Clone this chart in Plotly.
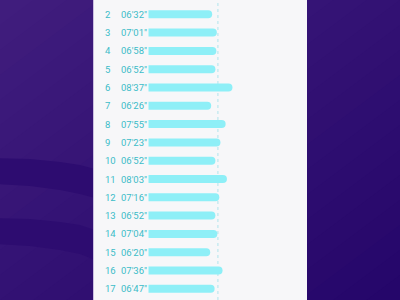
import plotly.graph_objects as go
import numpy as np

# ---- data ----
rows = list(range(1, 18))
times = ["06'32″", "06'32″", "07'01″", "06'58″", "06'52″", "08'37″", "06'26″", "07'55″",
         "07'23″", "06'52″", "08'03″", "07'16″", "06'52″", "07'04″", "06'20″", "07'36″", "06'47″"]
seconds = [int(t[:2]) * 60 + int(t[3:5]) for t in times]
avg = float(np.mean(seconds))

W, H = 400, 300
# layout geometry (pixels)
panel_l, panel_r = 93, 307
zero_px, px_per_s = 148.5, 0.1624
row2_px, row_step = 14.3, 18.3

x_range = [(panel_l - zero_px) / px_per_s, (panel_r - zero_px) / px_per_s]
y_range = [2 + (H - row2_px) / row_step, 2 - row2_px / row_step]

fig = go.Figure()
fig.add_trace(go.Bar(
    x=seconds, y=rows, orientation="h", width=8 / row_step,
    marker=dict(color="#8eeff7", line=dict(width=0)),
    hoverinfo="skip", showlegend=False,
))

shapes = []

def hexlerp(a, b, t):
    ca = [int(a[i:i + 2], 16) for i in (1, 3, 5)]
    cb = [int(b[i:i + 2], 16) for i in (1, 3, 5)]
    c = [round(ca[k] + (cb[k] - ca[k]) * t) for k in range(3)]
    return "#%02x%02x%02x" % tuple(c)

# diagonal background gradient
N = 24
for i in range(N):
    s = 2.0 * i / N
    col = hexlerp("#401d7d", "#25066a", i / (N - 1))
    A = (-2, 1 - s - 2)
    B = (3, 1 - s + 3)
    C = (3, -4)
    path = f"M {A[0]},{A[1]} L {B[0]},{B[1]} L {C[0]},{C[1]} Z"
    shapes.append(dict(type="path", xref="paper", yref="paper", path=path,
                       fillcolor=col, line=dict(width=0), layer="below"))

def P(x, y):
    return f"{x / W},{1 - y / H}"

bands = [
    ([(-5, 158), (30, 159), (60, 162), (80, 165), (95, 169)],
     [(95, 198), (80, 194), (60, 190), (30, 186), (-5, 184)]),
    ([(-5, 218), (30, 219), (60, 222), (80, 225), (95, 230)],
     [(95, 260), (80, 254), (60, 250), (30, 246), (-5, 244)]),
]
for top, bot in bands:
    pts = top + bot
    path = "M " + " L ".join(P(x, y) for x, y in pts) + " Z"
    shapes.append(dict(type="path", xref="paper", yref="paper", path=path,
                       fillcolor="#2d0c70", line=dict(width=0), layer="below"))

# white panel
shapes.append(dict(type="rect", xref="paper", yref="paper", x0=panel_l / W, x1=panel_r / W,
                   y0=0, y1=1, fillcolor="#f7f7f9", line=dict(width=0), layer="below"))
shapes.append(dict(type="line", xref="paper", yref="paper", x0=(panel_l + 0.5) / W, x1=(panel_l + 0.5) / W,
                   y0=0, y1=1, line=dict(color="#cbbfe0", width=1), layer="below"))

# average dashed line
shapes.append(dict(type="line", xref="x", yref="paper", x0=avg, x1=avg, y0=0, y1=1,
                   line=dict(color="#b0e4ec", width=1, dash="dot"), layer="between"))

annotations = []
for r, t in zip(rows, times):
    annotations.append(dict(x=103.5 / W, xref="paper", y=r, yref="y", text=str(r),
                            showarrow=False, xanchor="left", yanchor="middle",
                            font=dict(family="Roboto", size=9.5, color="#3bbcc8")))
    annotations.append(dict(x=118.5 / W, xref="paper", y=r, yref="y", text=t,
                            showarrow=False, xanchor="left", yanchor="middle",
                            font=dict(family="Roboto", size=9.5, color="#3bbcc8")))

fig.update_layout(
    width=W, height=H, margin=dict(l=0, r=0, t=0, b=0),
    paper_bgcolor="#33127a", plot_bgcolor="rgba(0,0,0,0)",
    barcornerradius=4,
    shapes=shapes, annotations=annotations,
    xaxis=dict(domain=[panel_l / W, panel_r / W], range=x_range, showgrid=False,
               zeroline=False, showticklabels=False, showline=False, fixedrange=True),
    yaxis=dict(domain=[0, 1], range=y_range, showgrid=False, zeroline=False,
               showticklabels=False, showline=False, fixedrange=True),
    showlegend=False,
)

fig.write_html("out.html", config={"displayModeBar": False})
